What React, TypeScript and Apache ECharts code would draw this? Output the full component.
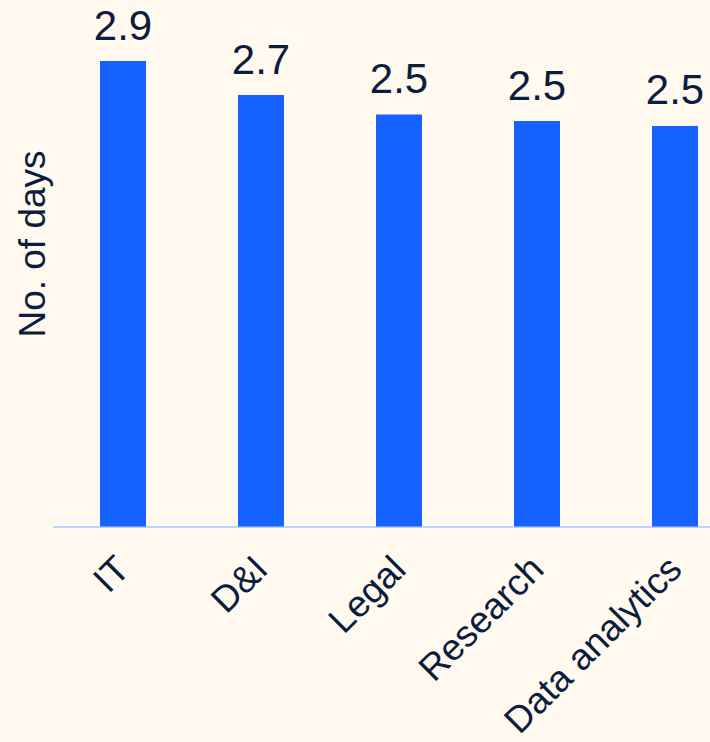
import React, { useEffect, useRef } from "react";
import * as echarts from "echarts";

// Average number of days per department
const categories = ["IT", "D&I", "Legal", "Research", "Data analytics"];
const days = [2.87, 2.66, 2.54, 2.5, 2.47];
const axisTitle = "No. of days";

const BG = "#FFF9F0";
const BAR = "#1462FF";
const INK = "#0B1D3D";
const FONT = "'Liberation Sans', Arial, Helvetica, sans-serif";

// The plot runs past the right edge of the visible frame, so the chart
// canvas is wider than the clipping wrapper.
const FRAME_W = 710;
const FRAME_H = 742;
const CANVAS_W = 760;

export default function App() {
  const ref = useRef<HTMLDivElement>(null);

  useEffect(() => {
    if (!ref.current) return;
    const chart = echarts.init(ref.current, null, { renderer: "svg" });
    chart.setOption({
      animation: false,
      backgroundColor: BG,
      grid: { left: 54, right: CANVAS_W - 744, top: 7.5, bottom: 214.5, containLabel: false },
      xAxis: {
        type: "category",
        data: categories,
        boundaryGap: true,
        axisLine: { show: true, lineStyle: { color: "#BCD2FF", width: 2 } },
        axisTick: { show: false },
        axisLabel: {
          rotate: 45,
          margin: 36,
          color: INK,
          fontFamily: FONT,
          fontSize: 37,
          interval: 0,
        },
      },
      yAxis: {
        type: "value",
        min: 0,
        max: 3.2,
        show: false,
        splitLine: { show: false },
      },
      graphic: [
        {
          type: "text",
          x: 32,
          y: 244,
          rotation: Math.PI / 2,
          style: {
            text: axisTitle,
            fill: INK,
            font: `37px ${FONT}`,
            align: "center",
            verticalAlign: "middle",
          },
        },
      ],
      series: [
        {
          type: "bar",
          data: days,
          barWidth: 46,
          itemStyle: { color: BAR },
          label: {
            show: true,
            position: "top",
            distance: 15,
            color: INK,
            fontFamily: FONT,
            fontSize: 42,
            formatter: (p: any) => Number(p.value).toFixed(1),
          },
        },
      ],
    });
    return () => chart.dispose();
  }, []);

  return (
    <div
      style={{
        position: "absolute",
        left: 0,
        top: 0,
        width: FRAME_W,
        height: FRAME_H,
        overflow: "hidden",
        background: BG,
      }}
    >
      <div ref={ref} style={{ width: CANVAS_W, height: FRAME_H }} />
    </div>
  );
}
